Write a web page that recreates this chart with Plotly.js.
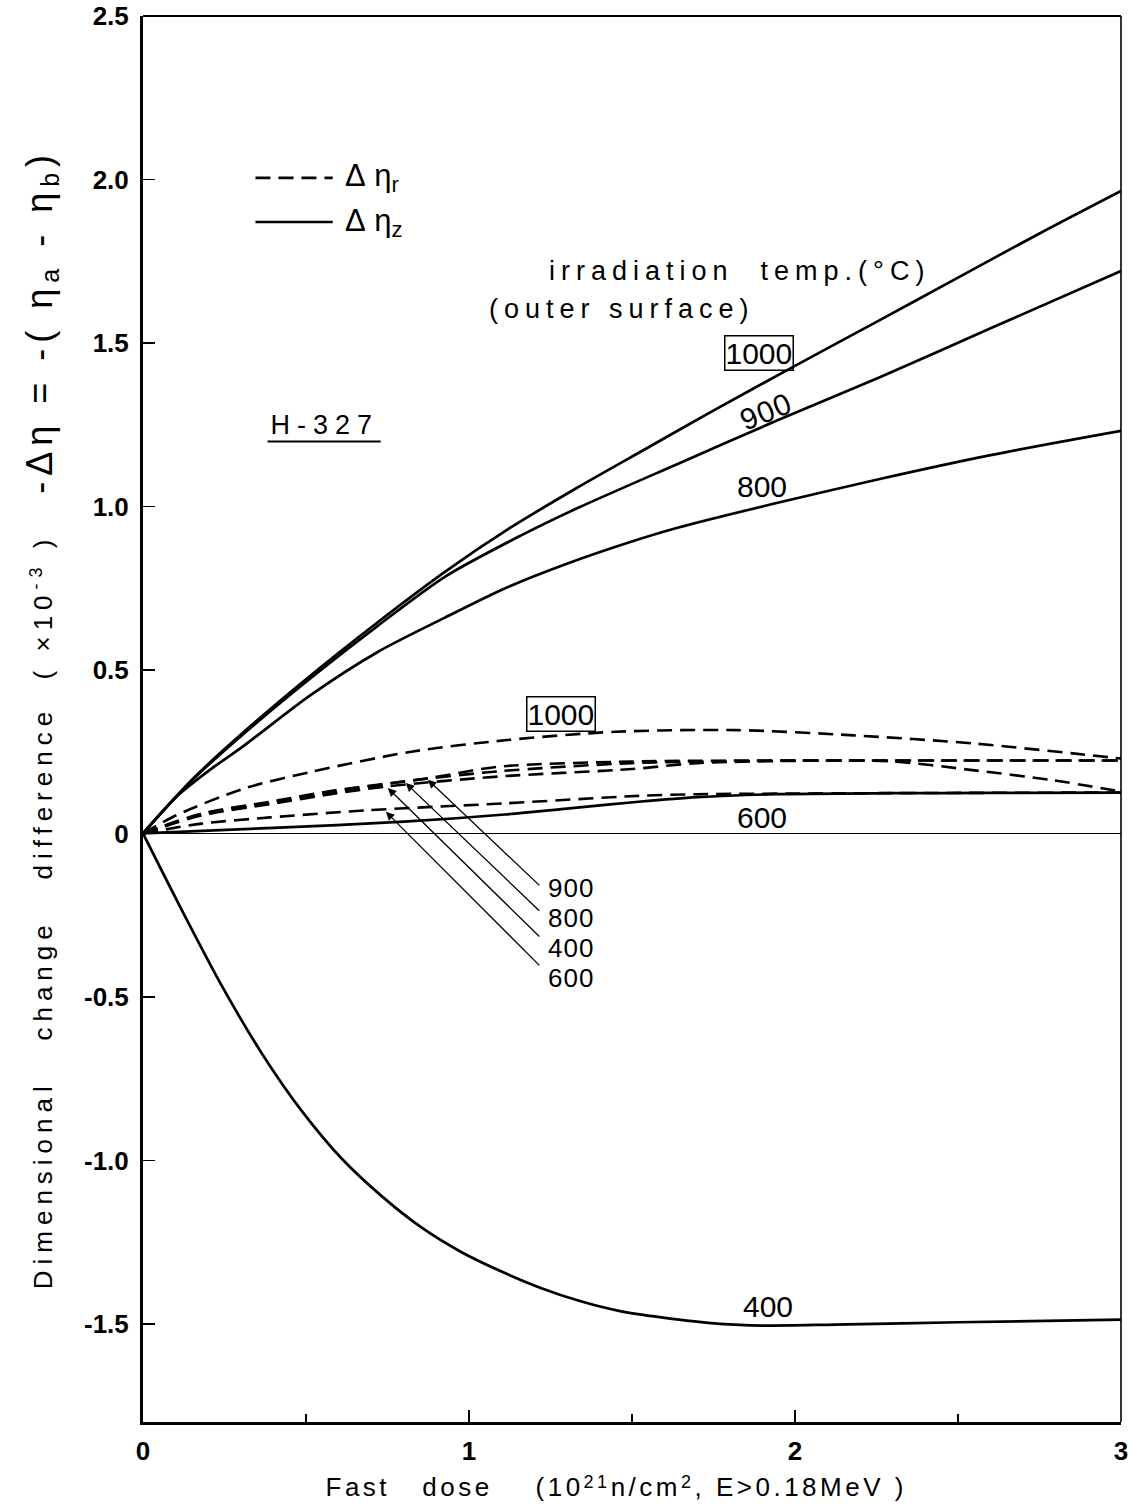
<!DOCTYPE html>
<html>
<head>
<meta charset="utf-8">
<script src="https://cdn.plot.ly/plotly-3.0.1.min.js"></script>
<style>
  html, body { margin: 0; padding: 0; background: #ffffff; }
  #chart { width: 1134px; height: 1506px; }
</style>
</head>
<body>
<div id="chart"></div>
<script>
// ---------- data ----------
// Solid curves: Δηz
const z1000X = [0, 0.154, 0.309, 0.514, 0.72, 0.926, 1.127, 1.333, 1.54, 1.744, 2.0, 2.26, 2.5, 2.75, 3.0];
const z1000Y = [0, 0.168, 0.31, 0.483, 0.646, 0.80, 0.935, 1.058, 1.175, 1.29, 1.43, 1.57, 1.70, 1.835, 1.965];

const z900X = [0, 0.154, 0.309, 0.514, 0.72, 0.926, 1.157, 1.333, 1.64, 1.95, 2.26, 2.6, 3.0];
const z900Y = [0, 0.166, 0.305, 0.475, 0.635, 0.785, 0.91, 0.995, 1.13, 1.265, 1.395, 1.545, 1.72];

const z800X = [0, 0.1, 0.206, 0.309, 0.514, 0.72, 0.926, 1.111, 1.3, 1.49, 1.64, 1.95, 2.26, 2.6, 3.0];
const z800Y = [0, 0.11, 0.195, 0.268, 0.423, 0.555, 0.66, 0.75, 0.825, 0.89, 0.935, 1.012, 1.084, 1.157, 1.231];

const z600X = [0, 0.4, 0.8, 1.11, 1.3, 1.52, 1.7, 1.94, 2.3, 2.6, 3.0];
const z600Y = [0, 0.017, 0.036, 0.058, 0.076, 0.097, 0.111, 0.12, 0.123, 0.124, 0.125];

const z400X = [0, 0.122, 0.244, 0.366, 0.488, 0.61, 0.733, 0.854, 0.976, 1.10, 1.22, 1.34, 1.46, 1.59, 1.77, 1.9, 2.12, 2.5, 3.0];
const z400Y = [0, -0.24, -0.47, -0.675, -0.85, -0.995, -1.11, -1.205, -1.28, -1.34, -1.39, -1.43, -1.46, -1.48, -1.50, -1.505, -1.502, -1.495, -1.487];

// Dashed curves: Δηr
const r1000X = [0, 0.103, 0.309, 0.514, 0.823, 1.11, 1.45, 1.82, 2.18, 2.55, 2.86, 3.0];
const r1000Y = [0, 0.056, 0.137, 0.188, 0.25, 0.285, 0.311, 0.316, 0.30, 0.275, 0.244, 0.229];

const r900X = [0, 0.18, 0.39, 0.59, 0.87, 1.09, 1.5, 2.0, 2.5, 3.0];
const r900Y = [0, 0.061, 0.097, 0.132, 0.168, 0.204, 0.22, 0.223, 0.223, 0.223];

const r800X = [0, 0.18, 0.39, 0.59, 0.8, 1.09, 1.5, 1.9, 2.3, 2.55, 2.79, 3.0];
const r800Y = [0, 0.058, 0.093, 0.127, 0.159, 0.19, 0.215, 0.222, 0.22, 0.193, 0.163, 0.128];

const r400X = [0, 0.18, 0.39, 0.59, 0.75, 1.09, 1.5, 1.7, 2.0, 2.5, 3.0];
const r400Y = [0, 0.055, 0.09, 0.122, 0.144, 0.174, 0.197, 0.215, 0.222, 0.223, 0.223];

const r600X = [0, 0.18, 0.39, 0.69, 1.11, 1.52, 1.7, 2.0, 2.5, 3.0];
const r600Y = [0, 0.03, 0.049, 0.071, 0.092, 0.115, 0.12, 0.122, 0.124, 0.125];

// Axis ticks
const xTickVals = [0, 1, 2, 3];
const xTickText = ['0', '1', '2', '3'];
const xMinorVals = [0.5, 1.5, 2.5];
const yTickVals = [-1.5, -1.0, -0.5, 0, 0.5, 1.0, 1.5, 2.0, 2.5];
const yTickText = ['-1.5', '-1.0', '-0.5', '0', '0.5', '1.0', '1.5', '2.0', '2.5'];

// Arrow-label names (Δηr curves pointed at), top to bottom
const arrowNames = ['900', '800', '400', '600'];

// ---------- drawing ----------
const FONT = 'Liberation Sans, Arial, sans-serif';
const solid = {color: '#000', width: 2.7, shape: 'spline', smoothing: 0.8};
const dashed = {color: '#000', width: 2.6, shape: 'spline', smoothing: 0.8, dash: '15px,8px'};

function tr(name, x, y, line) {
  return {type: 'scatter', mode: 'lines', name: name, x: x, y: y, line: line,
          showlegend: false, hoverinfo: 'skip'};
}

const traces = [
  tr('Δηz 1000', z1000X, z1000Y, solid),
  tr('Δηz 900', z900X, z900Y, solid),
  tr('Δηz 800', z800X, z800Y, solid),
  tr('Δηz 600', z600X, z600Y, solid),
  tr('Δηz 400', z400X, z400Y, solid),
  tr('Δηr 1000', r1000X, r1000Y, dashed),
  tr('Δηr 900', r900X, r900Y, dashed),
  tr('Δηr 800', r800X, r800Y, dashed),
  tr('Δηr 400', r400X, r400Y, dashed),
  tr('Δηr 600', r600X, r600Y, dashed)
];

const numFont = {family: FONT, size: 30, color: '#000'};
const txtFont = {family: FONT, size: 27, color: '#000'};

// raised / lowered small text with an explicit pixel size
function sup(s, size, shift) { return '<span style="font-size:' + size + 'px;baseline-shift:' + shift + 'px">' + s + '</span>'; }
function sub(s, size, shift) { return '<span style="font-size:' + size + 'px;baseline-shift:-' + shift + 'px">' + s + '</span>'; }

// arrow geometry (tips in data units, tail offsets in px)
const arrowTipX = [0.874, 0.806, 0.751, 0.745];
const arrowTipY = [0.164, 0.154, 0.139, 0.066];
const arrowAX = [113, 135, 153, 155];
const arrowAY = [107, 129, 150, 155];

const NB = '\u00A0';
const annotations = [
  {x: 1.83, y: 1.72, xref: 'x', yref: 'y', text: 'irradiation' + NB + NB + 'temp.(°C)', showarrow: false, font: txtFont},
  {x: 1.47, y: 1.605, xref: 'x', yref: 'y', text: '(outer' + NB + 'surface)', showarrow: false, font: txtFont},
  {x: 1.89, y: 1.47, xref: 'x', yref: 'y', text: '1000', showarrow: false, font: numFont,
   bordercolor: '#000', borderwidth: 1.5, borderpad: 0},
  {x: 1.91, y: 1.29, xref: 'x', yref: 'y', text: '900', showarrow: false, font: numFont, textangle: -22},
  {x: 1.90, y: 1.06, xref: 'x', yref: 'y', text: '800', showarrow: false, font: numFont},
  {x: 1.283, y: 0.366, xref: 'x', yref: 'y', text: '1000', showarrow: false, font: numFont,
   bordercolor: '#000', borderwidth: 1.5, borderpad: 0},
  {x: 1.898, y: 0.05, xref: 'x', yref: 'y', text: '600', showarrow: false, font: numFont},
  {x: 1.917, y: -1.448, xref: 'x', yref: 'y', text: '400', showarrow: false, font: numFont},
  {x: 0.557, y: 1.249, xref: 'x', yref: 'y', text: 'H-327', showarrow: false,
   font: {family: FONT, size: 27, color: '#000'}},
  {x: 0.612, y: 2.005, xref: 'x', yref: 'y', xanchor: 'left', text: 'Δ' + NB + 'η' + sub('r', 22, 6), showarrow: false,
   font: {family: FONT, size: 31, color: '#000'}},
  {x: 0.612, y: 1.870, xref: 'x', yref: 'y', xanchor: 'left', text: 'Δ' + NB + 'η' + sub('z', 22, 6), showarrow: false,
   font: {family: FONT, size: 31, color: '#000'}},
  // labels at the arrow tails, one block (tight line spacing like the reference)
  {x: 1.237, y: -0.305, xref: 'x', yref: 'y', xanchor: 'left', yanchor: 'middle', align: 'left', showarrow: false,
   text: arrowNames.map(n => '<span style="font-size:26px">' + n + '</span>').join('<br>'),
   font: {family: FONT, size: 23, color: '#000'}},
  // x-axis title
  {x: 0.484, y: -0.0465, xref: 'paper', yref: 'paper', xanchor: 'center', yanchor: 'middle', showarrow: false,
   text: 'Fast' + NB + NB + NB + 'dose' + NB + NB + NB + NB + '(10' + sup('21', 18, 8) + 'n/cm' + sup('2', 18, 8) + ',' + NB + 'E>0.18MeV' + NB + ')',
   font: {family: FONT, size: 26, color: '#000'}},
  // y-axis title
  {x: -0.104, y: 0.5, xref: 'paper', yref: 'paper', xanchor: 'center', yanchor: 'middle', showarrow: false,
   textangle: -90,
   text: 'Dimensional' + NB + NB + NB + 'change' + NB + NB + NB + 'difference' + NB + NB + '(' + NB + '×10' + sup('-3', 18, 10) + NB + ')' +
         NB + NB + NB + '<span style="font-size:36px">-Δη' + NB + '=' + NB + '-(' + NB + 'η</span>' + sub('a', 25, 7) +
         '<span style="font-size:36px">' + NB + '-' + NB + 'η</span>' + sub('b', 25, 7) + '<span style="font-size:36px">)</span>',
   font: {family: FONT, size: 26, color: '#000'}}
];
arrowNames.forEach((nm, i) => {
  annotations.push({
    x: arrowTipX[i], y: arrowTipY[i], xref: 'x', yref: 'y',
    ax: arrowAX[i], ay: arrowAY[i], text: '',
    showarrow: true, arrowhead: 2, arrowsize: 1.3, arrowwidth: 1.3, arrowcolor: '#000'
  });
});

const shapes = [
  // frame top and right
  {type: 'line', xref: 'paper', yref: 'paper', x0: 0, x1: 1, y0: 1, y1: 1, line: {color: '#000', width: 2}},
  {type: 'line', xref: 'paper', yref: 'paper', x0: 1, x1: 1, y0: 0, y1: 1, line: {color: '#000', width: 1.6}},
  // legend samples
  {type: 'line', xref: 'x', yref: 'y', x0: 0.345, x1: 0.582, y0: 2.005, y1: 2.005, line: {color: '#000', width: 2.6, dash: '15px,8px'}},
  {type: 'line', xref: 'x', yref: 'y', x0: 0.345, x1: 0.582, y0: 1.870, y1: 1.870, line: {color: '#000', width: 2.6}},
  // underline of H-327
  {type: 'line', xref: 'x', yref: 'y', x0: 0.382, x1: 0.729, y0: 1.199, y1: 1.199, line: {color: '#000', width: 2}}
];

const layout = {
  width: 1134, height: 1506,
  margin: {l: 143, r: 13, t: 16, b: 84},
  paper_bgcolor: '#fff', plot_bgcolor: '#fff',
  font: {family: FONT, color: '#000'},
  showlegend: false,
  xaxis: {
    range: [0, 3], tickmode: 'array', tickvals: xTickVals, ticktext: xTickText,
    ticks: 'inside', ticklen: 12, tickwidth: 1.5, tickcolor: '#000',
    minor: {tickmode: 'array', tickvals: xMinorVals, ticks: 'inside', ticklen: 8, tickwidth: 1.3, tickcolor: '#000'},
    showline: true, linewidth: 3, linecolor: '#000', mirror: false,
    showgrid: false, zeroline: false, ticklabelstandoff: 4,
    tickfont: {family: FONT, size: 26, color: '#000', weight: 'bold'}
  },
  yaxis: {
    range: [-1.8, 2.5], tickmode: 'array', tickvals: yTickVals, ticktext: yTickText,
    ticks: 'inside', ticklen: 12, tickwidth: 1.5, tickcolor: '#000',
    showline: true, linewidth: 3, linecolor: '#000', mirror: false,
    showgrid: false, zeroline: true, zerolinecolor: '#000', zerolinewidth: 1.5,
    ticklabelstandoff: 6,
    tickfont: {family: FONT, size: 26, color: '#000', weight: 'bold'}
  },
  annotations: annotations,
  shapes: shapes
};

Plotly.newPlot('chart', traces, layout, {staticPlot: true, displayModeBar: false}).then(() => {
  const root = document.getElementById('chart');
  const spacing = [['irradiation', '6px'], ['(outer', '6px'], ['H-327', '7px'], ['Fast', '3.5px'], ['Dimensional', '6px'], ['900', '1px']];
  root.querySelectorAll('text.annotation-text').forEach(t => {
    const s = t.textContent;
    spacing.forEach(([k, v]) => { if (s.indexOf(k) === 0) t.style.letterSpacing = v; });
  });
  // arrow-only annotations leave empty text nodes behind; drop them
  root.querySelectorAll('text.annotation-text').forEach(t => {
    if (t.textContent.replace(/[\s\u200b]/g, '') === '') t.remove();
  });
});
</script>
</body>
</html>
